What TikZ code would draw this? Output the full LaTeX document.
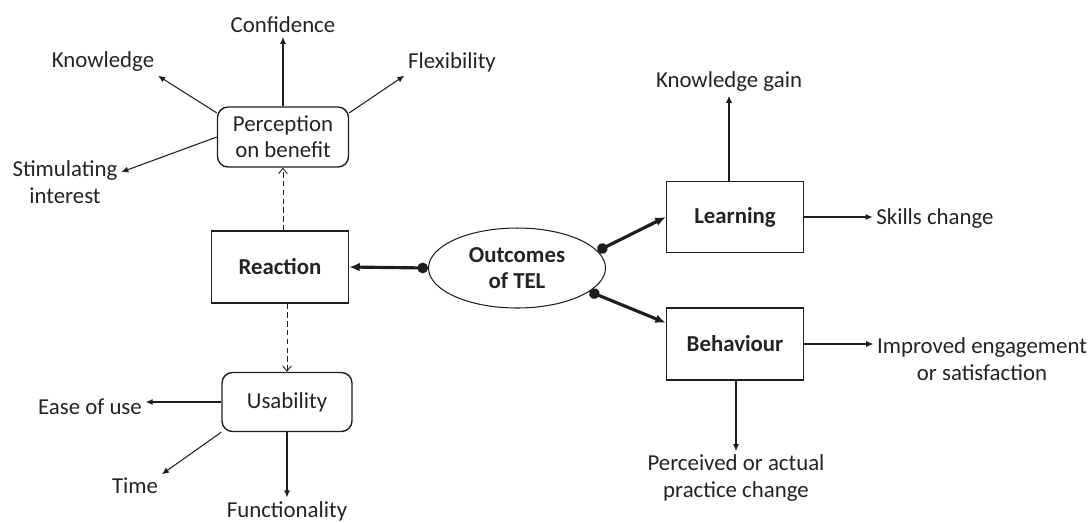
\documentclass[tikz,border=0pt]{standalone}
\usepackage{fontspec}
\setmainfont{Carlito}
\usepackage{tikz}
\usetikzlibrary{arrows.meta}
\usetikzlibrary{shapes.geometric}
\usepackage{xcolor}
\definecolor{ColLine}{RGB}{30,30,30}
\definecolor{ColText}{RGB}{35,35,35}
\newcommand{\DiagFont}{\fontsize{13}{15}\selectfont}
\tikzstyle{NodeBox}=[rectangle,draw=ColLine,line width=0.8pt,text=ColText,
minimum width=2.74cm,minimum height=1.44cm,font=\DiagFont\bfseries]
\tikzstyle{NodeRound}=[rectangle,rounded corners=6pt,draw=ColLine,line width=0.8pt,
text=ColText,minimum width=2.62cm,minimum height=1.2cm,align=center,font=\DiagFont]
\tikzstyle{NodeEllipse}=[ellipse,draw=ColLine,line width=0.6pt,text=ColText,
minimum width=3.54cm,minimum height=1.6cm,align=center,font=\DiagFont\bfseries]
\tikzstyle{NodeLabel}=[inner sep=2pt,align=center,text=ColText,font=\DiagFont]
\tikzstyle{EdgeThin}=[ColLine,line width=0.6pt,-{Latex[length=4pt,width=3.5pt]}]
\tikzstyle{EdgeThick}=[ColLine,line width=1.8pt,{Circle[length=6pt]}-{Latex[length=6pt,width=5pt]}]
\tikzstyle{EdgeDotted}=[ColLine,line width=0.5pt,densely dashed,-{Straight Barb[length=3pt,width=5pt]}]

\begin{document}
\begin{tikzpicture}[x=0.02cm,y=-0.02cm]
        \useasboundingbox (0,0) rectangle (1091,522);
        % boxes
        \node[NodeEllipse](o)at(517,268){Outcomes\\of TEL};
        \node[NodeBox](r)at(280,267){Reaction};
        \node[NodeBox,minimum height=1.42cm](l)at(735,217){Learning};
        \node[NodeBox](b)at(735,344){Behaviour};
        \node[NodeRound](p)at(283,137){Perception\\on benefit};
        \node[NodeRound,minimum width=2.6cm,minimum height=1.18cm](u)at(287,402){Usability};
        % labels
        \node[NodeLabel](conf)at(283,25){Confidence};
        \node[NodeLabel](know)at(103,62){Knowledge};
        \node[NodeLabel](flex)at(452,62){Flexibility};
        \node[NodeLabel](stim)at(65,182){Stimulating\\interest};
        \node[NodeLabel](kgain)at(729,82){Knowledge gain};
        \node[NodeLabel](skill)at(935,219){Skills change};
        \node[NodeLabel](impr)at(982,359){Improved engagement\\or satisfaction};
        \node[NodeLabel](perc)at(736,478){Perceived or actual\\practice change};
        \node[NodeLabel](ease)at(90,407){Ease of use};
        \node[NodeLabel](time)at(135,486){Time};
        \node[NodeLabel](func)at(287,511){Functionality};
        % outcomes
        \draw[EdgeThick](o.west)--(r.east);
        \draw[EdgeThick](o.12)--(l.west);
        \draw[EdgeThick](o.-18)--(b.163);
        % reaction
        \draw[EdgeDotted](r.north -| p.south)--(p.south);
        \draw[EdgeDotted](r.south -| u.north)--(u.north);
        \draw[EdgeThin](p.north)--(conf);
        \draw[EdgeThin](p.160)--(know.south east);
        \draw[EdgeThin](p.20)--(flex.south west);
        \draw[EdgeThin](p.west)--(stim.10);
        \draw[EdgeThin](u.west)--(u.west -| ease.east);
        \draw[EdgeThin](u.south west)--(time.north east);
        \draw[EdgeThin](u.south)--(func);
        % learning and behaviour
        \draw[EdgeThin](kgain.south |- l.north)--(kgain);
        \draw[EdgeThin](l.east)--(l.east -| skill.west);
        \draw[EdgeThin](b.east)--(b.east -| impr.west);
        \draw[EdgeThin](perc.north |- b.south)--(perc);
    \end{tikzpicture}
\end{document}
